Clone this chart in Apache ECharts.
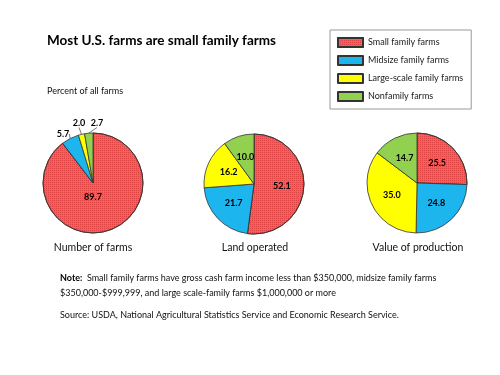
<!DOCTYPE html>
<html>
<head>
<meta charset="utf-8">
<script src="https://cdn.jsdelivr.net/npm/echarts@6/dist/echarts.min.js"></script>
<style>
html, body { margin: 0; padding: 0; background: #fff; }
#farmPies { width: 500px; height: 375px; }
</style>
</head>
<body>
<div id="farmPies"></div>
<script>
// categories and shares (percent)
var categories = ['Small family farms', 'Midsize family farms', 'Large-scale family farms', 'Nonfamily farms'];
var numberOfFarms = [89.7, 5.7, 2.0, 2.7];
var landOperated = [52.1, 21.7, 16.2, 10.0];
var valueOfProduction = [25.5, 24.8, 35.0, 14.7];
var pieNames = ['Number of farms', 'Land operated', 'Value of production'];

var colors = ['#fb5c5c', '#1cb5ee', '#ffff00', '#92d050'];
var font = 'Lato, "Open Sans", sans-serif';

var pieCenters = [[93, 183], [254, 184], [417, 183]];
// label spots for the first pie (label positions only)
var firstPieLabelPos = { 0: [93, 197], 1: [63, 134], 2: [79, 123], 3: [97, 123] };

function buildData(values, smallOutside) {
  return values.map(function (v, i) {
    var item = { name: categories[i], value: v };
    if (smallOutside && v < 10) {
      item.label = { position: 'outside' };
      item.labelLine = { show: true };
    }
    return item;
  });
}

var redDecal = {
  symbol: 'rect',
  symbolSize: 1,
  dashArrayX: [1, 1],
  dashArrayY: [1, 1],
  color: 'rgba(170,20,20,0.35)'
};

function pieSeries(values, idx) {
  var s = {
    type: 'pie',
    name: pieNames[idx],
    center: pieCenters[idx],
    radius: [0, 50],
    startAngle: 90,
    clockwise: true,
    animation: false,
    label: {
      show: true,
      position: 'inside',
      formatter: function (p) { return p.value.toFixed(1); },
      fontFamily: font,
      fontWeight: 'bold',
      fontSize: 9,
      color: '#000'
    },
    labelLine: { length: 6, length2: 0, lineStyle: { color: '#777', width: 1 } },
    itemStyle: { borderColor: '#333', borderWidth: 0.8 },
    data: buildData(values, idx === 0).map(function (d, i) {
      d.itemStyle = { color: colors[i] };
      if (i === 0) d.itemStyle.decal = redDecal;
      return d;
    })
  };
  if (idx === 0) {
    s.labelLayout = function (p) {
      var pos = firstPieLabelPos[p.dataIndex];
      if (!pos) return {};
      return { x: pos[0], y: pos[1], align: 'center', verticalAlign: 'middle' };
    };
  }
  return s;
}

var chart = echarts.init(document.getElementById('farmPies'));
chart.setOption({
  backgroundColor: '#fff',
  title: [
    { text: 'Most U.S. farms are small family farms', left: 47, top: 34, padding: 0,
      textStyle: { fontFamily: font, fontWeight: 'bold', fontSize: 13.5, color: '#000' } },
    { text: 'Percent of all farms', left: 47, top: 87, padding: 0,
      textStyle: { fontFamily: font, fontWeight: 'normal', fontSize: 9, color: '#111' } },
    { text: pieNames[0], left: 93, top: 242, padding: 0, textAlign: 'center',
      textStyle: { fontFamily: font, fontWeight: 'normal', fontSize: 10.5, color: '#111' } },
    { text: pieNames[1], left: 255, top: 242, padding: 0, textAlign: 'center',
      textStyle: { fontFamily: font, fontWeight: 'normal', fontSize: 10.5, color: '#111' } },
    { text: pieNames[2], left: 418, top: 242, padding: 0, textAlign: 'center',
      textStyle: { fontFamily: font, fontWeight: 'normal', fontSize: 10.5, color: '#111' } },
    { text: '{b|Note:}  Small family farms have gross cash farm income less than $350,000, midsize family farms\n$350,000-$999,999, and large scale-family farms $1,000,000 or more',
      left: 60, top: 271, padding: 0,
      textStyle: { fontFamily: font, fontWeight: 'normal', fontSize: 9, color: '#111', lineHeight: 15,
        rich: { b: { fontFamily: font, fontWeight: 'bold', fontSize: 9, color: '#000' } } } },
    { text: 'Source: USDA, National Agricultural Statistics Service and Economic Research Service.',
      left: 60, top: 311, padding: 0,
      textStyle: { fontFamily: font, fontWeight: 'normal', fontSize: 9, color: '#111' } }
  ],
  legend: {
    orient: 'vertical',
    left: 330,
    top: 30,
    padding: [7, 8, 7, 7],
    borderColor: '#999',
    borderWidth: 1,
    itemWidth: 25,
    itemHeight: 9,
    itemGap: 7,
    icon: 'rect',
    selectedMode: false,
    textStyle: { fontFamily: font, fontSize: 9, color: '#222' },
    data: categories
  },
  series: [
    pieSeries(numberOfFarms, 0),
    pieSeries(landOperated, 1),
    pieSeries(valueOfProduction, 2)
  ]
});
</script>
</body>
</html>
